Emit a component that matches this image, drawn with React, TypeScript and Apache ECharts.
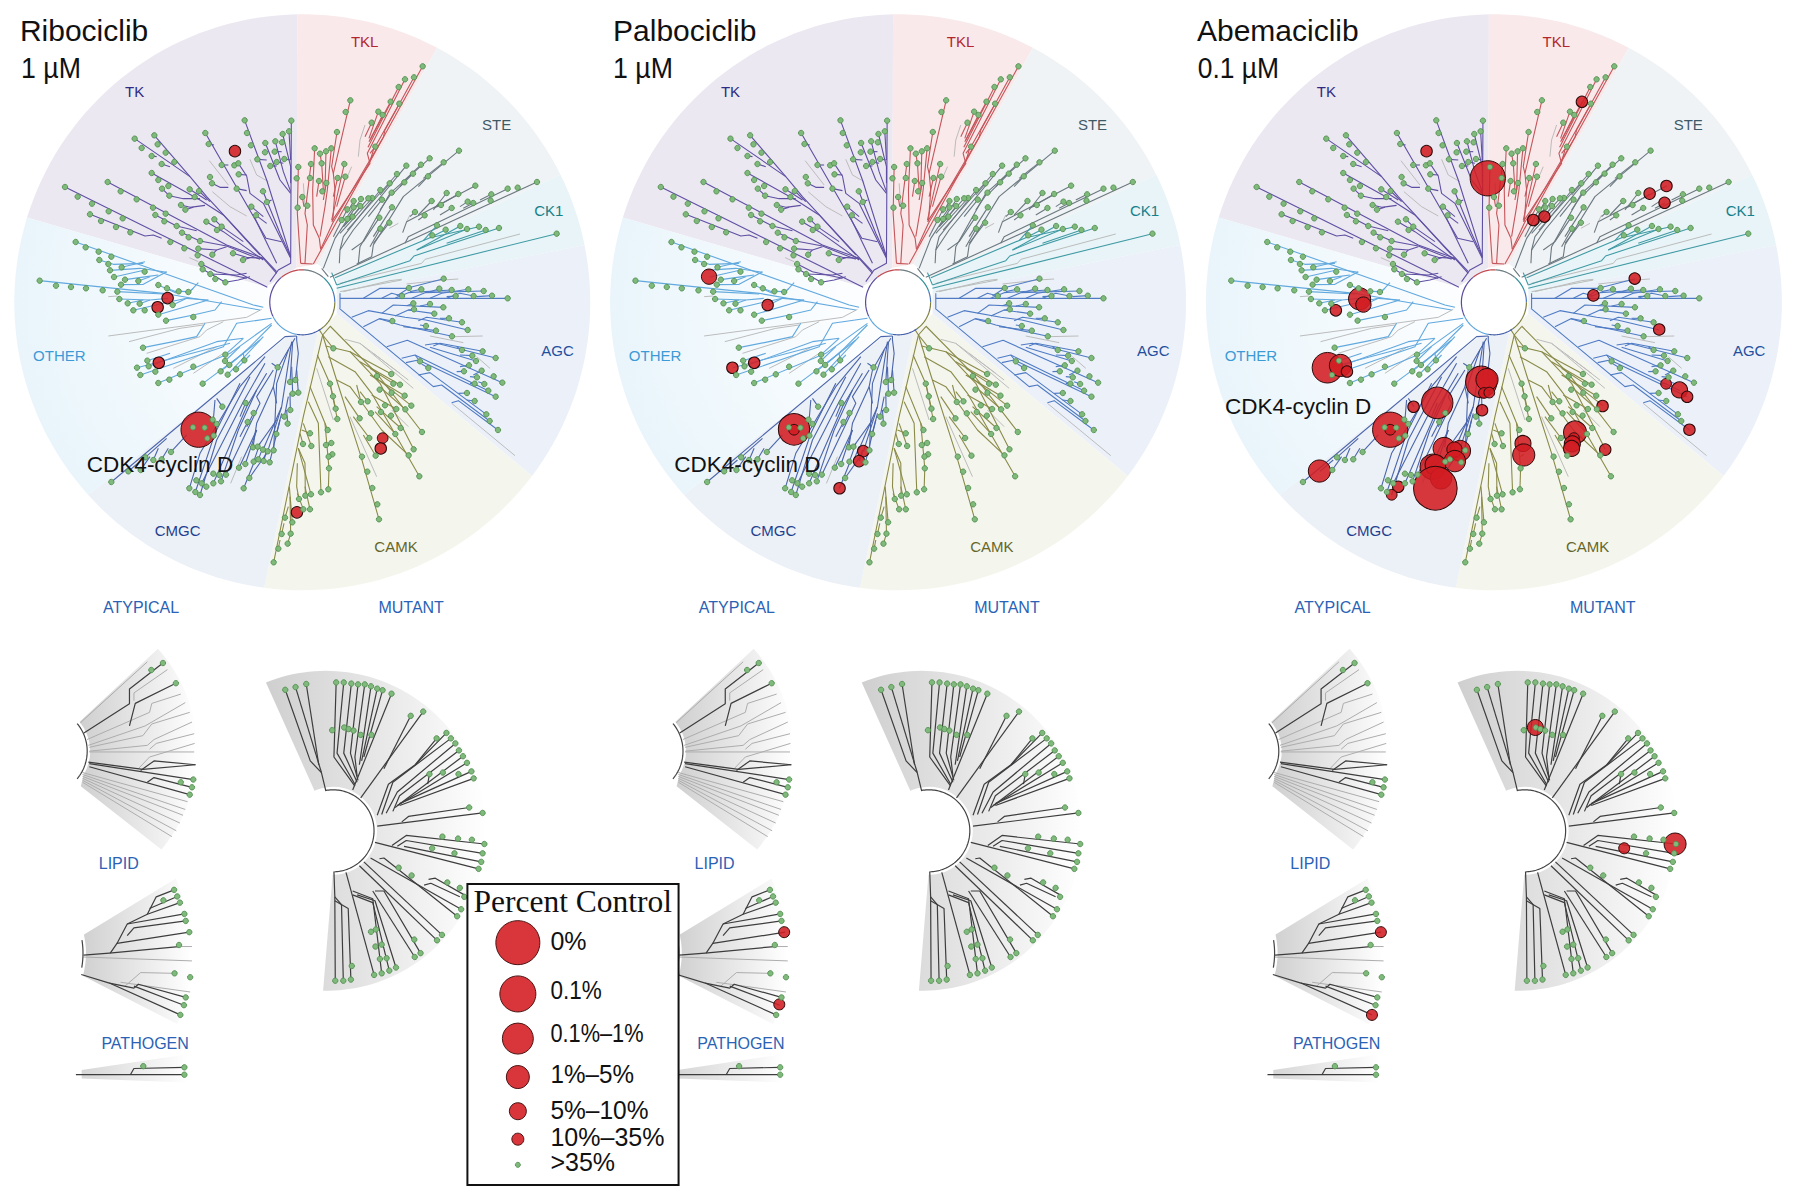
import React, { useEffect, useRef } from "react";
import * as echarts from "echarts";

// Positions below at 3x; fromCrop converts them to the tree's data units.
const fromCrop = (ox: number, oy: number, list: number[][]) =>
  list.map((f) => f.map((v, i) => ((i % 2 === 0 ? ox : oy) + v / 3) * 2.6133));

// ---------- titles and labels (tree coordinates) ----------
const drugNames = ["Ribociclib", "Palbociclib", "Abemaciclib"];
const drugDoses = ["1 µM", "1 µM", "0.1 µM"];
const doseScale = [0.89, 0.89, 0.88];
const titleX = [[52, 55], [45, 45], [14, 16]];
const cdkLabelPos = [[227, 1213], [205, 1213], [87, 1063]];
const panelOffsets = [0, 595.8, 1191.6];
const familyLabels: [string, number, number, string][] = [
  ["TK", 352, 240, "#2f2a85"], ["TKL", 953, 108, "#b3262e"], ["STE", 1298, 326, "#3f5a66"],
  ["CK1", 1434, 550, "#16808a"], ["AGC", 1457, 917, "#1f4fa0"], ["CAMK", 1035, 1429, "#66662a"],
  ["CMGC", 464, 1386, "#1f3f8f"], ["OTHER", 155, 930, "#3c9ad6"],
];
const lowerLabels: [string, number, number][] = [
  ["ATYPICAL", 316, 46], ["MUTANT", 921, 46], ["LIPID", 266, 703], ["PATHOGEN", 325, 1168],
];

// ---------- family wedges: fill, outer arc angles, inner vertices ----------
const wedges: [string, number, number, number[]][] = [
  ["#ece8f1", 91, 162.9, [695, 750, 775, 700]],
  ["#f9e9ea", 62.1, 91, [775, 700, 830, 690]],
  ["#f0f3f5", 26.3, 62.1, [830, 690, 880, 730]],
  ["#e8f4f7", 11.5, 26.3, [880, 730, 880, 770]],
  ["#ecf1f9", -37.1, 11.5, [880, 770, 880, 820]],
  ["#f4f6ee", -97.6, -37.1, [880, 820, 830, 870]],
  ["#ecf0f7", -138, -97.6, [830, 870, 750, 880]],
  ["#eef7fc", -197.1, -138, [750, 880, 695, 750]],
];
const ringArcs: [string, number, number][] = [
  ["#5b4a9e", 130, 205], ["#c0474d", 87, 130], ["#6d7a80", 50, 87], ["#2f8f9a", 20, 50],
  ["#4a76c0", 0, 20], ["#7d7d3a", -55, 0], ["#4560a8", -100, -55], ["#5ba3db", -155, -100],
];

// ---------- branches and dots per family ----------
const tkBranches = fromCrop(50, 100, [
  [652, 562, 45, 261],
  [335, 415, 310, 405, 285, 408, 120, 343],
  [680, 520, 640, 475, 530, 435, 173, 246],
  [254, 116, 420, 230, 470, 290, 600, 430, 680, 515],
  [313, 106, 420, 230],
  [360, 200, 335, 192],
  [320, 170, 305, 168],
  [305, 219, 450, 300, 520, 345, 630, 465],
  [336, 266, 358, 287, 400, 296, 450, 296],
  [419, 268, 470, 300],
  [447, 273, 480, 305],
  [393, 315, 420, 322, 465, 316],
  [406, 329, 430, 322],
  [316, 345, 380, 378, 440, 392],
  [396, 398, 450, 423, 530, 438, 630, 478],
  [445, 446, 500, 450, 530, 440],
  [487, 464, 500, 450],
  [469, 365, 520, 395, 640, 480],
  [493, 358, 515, 380, 580, 425],
  [549, 460, 590, 472, 640, 475],
  [579, 480, 600, 473],
  [454, 492, 500, 515, 590, 535],
  [458, 508, 526, 547, 565, 540, 600, 530],
  [481, 522, 560, 525, 590, 520],
  [466, 99, 648, 415, 695, 425],
  [610, 345, 680, 490],
  [584, 61, 650, 240, 722, 470],
  [565, 190, 590, 228, 600, 280, 640, 310, 722, 475],
  [476, 132, 492, 135],
  [515, 195, 535, 195],
  [486, 250, 510, 262, 535, 262],
  [560, 266, 590, 272],
  [566, 223, 590, 225],
  [604, 320, 640, 350],
  [618, 346, 650, 370],
  [639, 274, 690, 400, 722, 470],
  [651, 306, 665, 300],
  [646, 129, 690, 240, 722, 280],
  [622, 178, 650, 180],
  [661, 198, 680, 198],
  [676, 124, 700, 215, 722, 275],
  [698, 102, 722, 200, 722, 250],
  [717, 94, 722, 180],
  [696, 127, 705, 125],
  [674, 155, 695, 155],
  [680, 186, 700, 190],
  [703, 177, 720, 180],
  [724, 62, 722, 490, 685, 510, 660, 545],
]);
const tkGray = fromCrop(50, 100, [[478, 182, 535, 255], [600, 178, 620, 225, 655, 245], [487, 275, 540, 320, 590, 348], [418, 473, 445, 485]]);
const tkDots = fromCrop(50, 100, [
  [45, 261], [83, 290], [126, 311], [176, 334], [218, 355], [173, 246], [212, 274], [260, 298], [309, 323], [347, 341],
  [120, 343], [153, 363], [198, 381], [241, 397], [254, 116], [275, 144], [305, 168], [335, 192], [373, 186], [313, 106],
  [323, 133], [347, 158], [305, 219], [325, 240], [336, 266], [358, 287], [355, 258], [419, 268], [434, 291], [447, 273],
  [393, 315], [406, 329], [316, 345], [343, 364], [380, 378], [361, 426], [403, 445], [396, 398], [416, 412], [450, 423],
  [445, 446], [443, 466], [487, 464], [469, 365], [493, 358], [501, 390], [515, 380], [549, 460], [579, 480], [454, 492],
  [458, 508], [481, 522], [496, 537], [526, 547], [466, 99], [476, 132], [515, 195], [480, 231], [486, 250], [553, 196],
  [565, 190], [566, 223], [560, 266], [584, 61], [591, 99], [603, 136], [622, 178], [646, 129], [645, 157], [661, 198],
  [639, 274], [651, 306], [604, 320], [618, 346], [676, 124], [696, 127], [674, 155], [680, 186], [703, 177], [698, 102],
  [717, 94], [724, 62],
]);

const tklBranches = fromCrop(290, 50, [
  [70, 642, 398, 49],
  [372, 82, 285, 240, 280, 262, 128, 520, 92, 598],
  [345, 88, 232, 310, 240, 340, 125, 515],
  [326, 111, 234, 292],
  [328, 161, 250, 300, 240, 335],
  [302, 155, 237, 275],
  [265, 185, 237, 265],
  [278, 195, 240, 270],
  [245, 218, 225, 260],
  [256, 290, 240, 310],
  [181, 151, 130, 370, 135, 420, 128, 515],
  [141, 246, 125, 350, 130, 370],
  [124, 295, 112, 420, 105, 470, 90, 560],
  [108, 304, 105, 420],
  [90, 311, 95, 340, 100, 420],
  [74, 295, 68, 420, 70, 525, 88, 565, 92, 598],
  [25, 351, 22, 490, 32, 640],
  [63, 342, 45, 490, 52, 525, 45, 640],
  [163, 342, 125, 510],
  [143, 384, 130, 440],
  [166, 380, 140, 470],
  [32, 640, 68, 642],
  [87, 393, 80, 440],
  [109, 399, 100, 450],
  [37, 441, 42, 470],
]);
const tklGray = fromCrop(290, 50, [[225, 225, 210, 270, 205, 320], [40, 400, 45, 470], [185, 350, 170, 385]]);
const tklDots = fromCrop(290, 50, [
  [398, 49], [345, 88], [372, 82], [326, 111], [302, 155], [328, 161], [181, 151], [167, 186], [265, 185], [278, 195],
  [245, 218], [256, 290], [141, 246], [74, 295], [90, 311], [108, 304], [124, 295], [25, 351], [63, 342], [95, 340],
  [163, 342], [20, 385], [60, 384], [87, 393], [109, 399], [143, 384], [166, 380], [97, 424], [37, 441], [52, 467], [23, 473],
]);

const steBranches = fromCrop(290, 50, [
  [120, 682, 741, 396],
  [556, 407, 350, 515, 338, 548],
  [505, 432, 440, 470],
  [470, 429, 430, 480],
  [425, 453, 385, 495],
  [345, 580, 355, 560, 653, 416],
  [604, 433, 570, 450],
  [375, 486, 360, 500],
  [404, 496, 385, 510],
  [533, 455, 510, 470],
  [550, 459, 520, 475],
  [453, 465, 430, 475],
  [485, 474, 450, 495],
  [507, 302, 340, 440, 250, 585, 245, 620, 200, 642],
  [461, 337, 400, 385],
  [414, 379, 385, 410],
  [419, 325, 300, 430, 210, 590, 205, 640],
  [393, 344, 345, 390],
  [369, 371, 330, 410],
  [343, 397, 310, 430],
  [349, 347, 190, 540, 150, 600, 148, 640],
  [321, 372, 172, 540],
  [299, 400, 270, 435],
  [271, 420, 160, 560, 150, 600],
  [305, 428, 270, 480],
  [276, 449, 235, 500],
  [247, 444, 150, 550],
  [235, 445, 160, 530],
  [213, 447, 135, 565, 100, 655],
  [191, 453, 170, 490],
  [172, 478, 130, 560],
  [191, 472, 165, 510],
  [211, 468, 180, 510],
  [188, 500, 160, 530],
  [268, 503, 220, 575, 185, 600],
  [306, 472, 250, 560],
  [271, 536, 240, 590],
  [298, 518, 250, 580],
  [95, 655, 115, 680],
]);
const steGray = fromCrop(290, 50, [[325, 520, 298, 535], [360, 495, 350, 515]]);
const steDots = fromCrop(290, 50, [
  [507, 302], [461, 337], [419, 325], [393, 344], [414, 379], [369, 371], [343, 397], [349, 347], [321, 372], [299, 400],
  [271, 420], [305, 428], [276, 449], [247, 444], [235, 445], [213, 447], [191, 453], [172, 478], [191, 472], [211, 468],
  [188, 500], [172, 507], [155, 510], [268, 503], [306, 472], [298, 518], [271, 536], [741, 396], [683, 413], [653, 416],
  [604, 433], [602, 452], [556, 407], [505, 432], [470, 429], [425, 453], [375, 486], [453, 465], [485, 474], [533, 455],
  [550, 459], [404, 496],
]);

const ck1Branches = fromCrop(290, 50, [
  [140, 705, 360, 632, 372, 618, 627, 534],
  [135, 683, 420, 563, 567, 530],
  [420, 563, 427, 556],
  [420, 563, 467, 539],
  [400, 572, 441, 526],
  [380, 600, 511, 528],
  [380, 600, 531, 537],
  [470, 580, 587, 540],
  [140, 715, 800, 551],
  [125, 668, 140, 705],
]);
const ck1Gray = fromCrop(290, 50, [[150, 700, 395, 640, 405, 628, 690, 552], [150, 725, 335, 690]]);
const ck1Dots = fromCrop(290, 50, [[627, 534], [587, 540], [567, 530], [531, 537], [511, 528], [467, 539], [441, 526], [427, 556], [800, 551]]);

const agcBranches = fromCrop(330, 260, [
  [30, 115, 533, 115],
  [30, 100, 30, 145],
  [100, 115, 150, 85, 230, 85, 341, 56],
  [155, 115, 185, 100, 216, 108],
  [195, 115, 235, 98, 365, 90],
  [245, 115, 285, 98, 461, 93],
  [300, 115, 335, 100, 415, 88],
  [350, 115, 390, 100, 431, 108],
  [200, 108, 237, 84],
  [240, 95, 274, 88],
  [300, 95, 328, 86],
  [350, 110, 377, 108],
  [440, 110, 486, 107],
  [65, 172, 115, 152, 225, 172, 288, 180, 413, 210],
  [155, 160, 190, 135, 340, 142],
  [230, 137, 250, 130],
  [270, 138, 300, 132],
  [195, 168, 235, 150, 313, 161],
  [235, 150, 252, 148],
  [265, 182, 290, 172, 396, 187],
  [330, 175, 357, 175],
  [100, 200, 148, 176, 210, 195, 366, 229],
  [148, 176, 187, 183],
  [220, 200, 318, 212],
  [270, 195, 288, 198],
  [28, 145, 310, 380, 335, 375, 479, 483],
  [170, 260, 232, 241, 517, 368],
  [285, 255, 320, 250, 497, 294],
  [310, 258, 330, 250, 458, 274],
  [300, 262, 438, 303],
  [390, 285, 427, 287],
  [380, 260, 396, 270],
  [215, 295, 255, 285, 475, 392],
  [255, 285, 270, 304],
  [228, 308, 265, 300, 497, 410],
  [275, 312, 295, 324],
  [265, 345, 300, 338, 469, 463],
  [390, 320, 417, 316],
  [380, 335, 402, 334],
  [430, 345, 455, 332],
  [420, 350, 441, 352],
  [420, 370, 434, 371],
  [445, 365, 463, 372],
  [385, 400, 411, 399],
  [410, 420, 434, 423],
  [365, 428, 385, 422, 504, 510],
]);
const agcGray = fromCrop(330, 260, [
  [365, 430, 555, 587], [370, 230, 458, 228], [300, 228, 400, 248], [40, 95, 180, 62, 215, 58],
  [230, 72, 340, 60, 385, 57], [440, 290, 480, 325],
]);
const agcDots = fromCrop(330, 260, [
  [341, 56], [237, 84], [274, 88], [328, 86], [365, 90], [415, 88], [461, 93], [216, 108], [377, 108], [431, 108],
  [486, 107], [533, 115], [250, 130], [300, 132], [340, 142], [252, 148], [313, 161], [357, 175], [396, 187], [187, 183],
  [288, 198], [318, 212], [413, 210], [366, 229], [396, 270], [458, 274], [427, 287], [438, 303], [497, 294], [270, 304],
  [295, 324], [417, 316], [402, 334], [455, 332], [441, 352], [491, 349], [517, 368], [434, 371], [463, 372], [475, 392],
  [497, 410], [411, 399], [434, 423], [469, 463], [479, 483], [504, 510],
]);

const camkBranches = fromCrop(260, 320, [
  [188, 45, 130, 290, 41, 727],
  [175, 25, 188, 45, 210, 20],
  [210, 18, 350, 160, 486, 336],
  [188, 45, 220, 85],
  [188, 45, 225, 165, 300, 400, 357, 598],
  [205, 110, 285, 155, 335, 220, 478, 469],
  [230, 180, 270, 200, 300, 240, 365, 330, 446, 406],
  [197, 78, 270, 95, 360, 190, 461, 388],
  [270, 95, 394, 162],
  [300, 125, 420, 194],
  [330, 145, 400, 191],
  [330, 165, 434, 227],
  [350, 175, 454, 257],
  [370, 210, 436, 268],
  [290, 195, 303, 246],
  [300, 215, 323, 244],
  [335, 225, 409, 267],
  [350, 260, 422, 324],
  [345, 275, 406, 342],
  [255, 230, 299, 295],
  [280, 290, 328, 354],
  [310, 345, 347, 407],
  [172, 105, 210, 191, 232, 297],
  [210, 191, 219, 229],
  [219, 229, 227, 266],
  [150, 200, 195, 310, 207, 445, 205, 508],
  [195, 310, 203, 330],
  [198, 375, 214, 369],
  [206, 410, 217, 403],
  [145, 245, 175, 310, 183, 517],
  [130, 310, 154, 378],
  [125, 330, 150, 340],
  [120, 340, 129, 372],
  [115, 385, 135, 430, 136, 527],
  [115, 385, 153, 523],
  [135, 500, 150, 568],
  [112, 430, 110, 500, 117, 537],
  [88, 500, 97, 607],
  [90, 530, 92, 641, 83, 671],
  [75, 593, 85, 560],
  [65, 642, 72, 610],
  [55, 686, 60, 660],
  [130, 568, 112, 520],
]);
const camkGray = fromCrop(260, 320, [
  [170, 145, 220, 300], [270, 290, 350, 470], [255, 58, 300, 70, 420, 160], [300, 70, 460, 205], [340, 100, 445, 180], [395, 270, 445, 320],
]);
const camkDots = fromCrop(260, 320, [
  [220, 85], [486, 336], [478, 469], [446, 406], [461, 388], [454, 257], [436, 268], [434, 227], [420, 194], [394, 162],
  [400, 191], [351, 168], [359, 209], [395, 218], [409, 267], [375, 256], [393, 287], [422, 324], [406, 342], [303, 246],
  [323, 244], [333, 280], [363, 276], [299, 295], [328, 354], [347, 407], [306, 410], [322, 455], [337, 504], [352, 553],
  [357, 598], [210, 191], [219, 229], [227, 266], [232, 297], [203, 330], [198, 375], [214, 369], [217, 403], [206, 410],
  [207, 445], [205, 508], [183, 517], [150, 340], [129, 372], [154, 378], [153, 523], [136, 527], [117, 537], [150, 568],
  [130, 568], [75, 593], [97, 607], [65, 642], [92, 641], [83, 671], [55, 686], [41, 727],
]);

const cmgcBranches = fromCrop(100, 320, [
  [590, 48, 555, 50, 34, 486],
  [136, 412, 200, 355],
  [160, 420, 175, 385],
  [185, 418, 205, 385],
  [213, 396, 260, 345],
  [85, 454, 125, 420],
  [122, 450, 150, 410],
  [345, 240, 340, 300],
  [350, 235, 367, 260],
  [495, 110, 420, 200, 300, 400, 268, 505],
  [420, 190, 345, 340, 286, 516],
  [450, 170, 350, 360, 300, 525],
  [495, 130, 430, 245, 305, 490],
  [500, 160, 440, 260, 340, 490],
  [520, 150, 470, 230, 480, 250, 378, 464],
  [470, 210, 415, 330, 363, 484],
  [437, 249, 420, 290],
  [461, 279, 440, 320],
  [443, 306, 420, 350],
  [585, 55, 530, 150, 520, 200, 530, 250],
  [520, 200, 470, 310, 459, 382],
  [565, 90, 530, 190, 521, 391],
  [575, 65, 545, 260, 503, 394],
  [545, 260, 489, 389],
  [530, 300, 473, 380],
  [540, 300, 509, 427],
  [500, 390, 491, 423],
  [490, 380, 475, 418],
  [480, 370, 461, 425],
  [436, 432, 470, 330],
  [417, 443, 470, 330],
  [448, 474, 500, 400],
  [431, 505, 465, 420],
  [578, 65, 570, 186],
  [590, 60, 595, 100, 586, 180],
  [578, 221, 575, 140],
  [595, 218, 590, 150],
  [571, 270, 570, 220],
  [553, 290, 565, 230],
  [563, 311, 560, 270],
  [529, 342, 545, 280],
  [533, 142, 515, 130],
  [590, 48, 590, 60],
]);
const cmgcGray = fromCrop(100, 320, [[392, 490, 425, 410]]);
const cmgcDots = fromCrop(100, 320, [
  [34, 486], [85, 454], [122, 450], [136, 412], [160, 420], [185, 418], [213, 396], [279, 322], [296, 329], [314, 323],
  [322, 355], [341, 347], [338, 299], [350, 312], [367, 260], [437, 249], [461, 279], [443, 306], [533, 142], [570, 186],
  [586, 180], [578, 221], [595, 218], [571, 270], [553, 290], [563, 311], [529, 342], [459, 382], [473, 380], [489, 389],
  [503, 394], [521, 391], [461, 425], [475, 418], [491, 423], [509, 427], [436, 432], [417, 443], [448, 474], [431, 505],
  [378, 464], [358, 465], [363, 484], [340, 490], [340, 461], [319, 500], [305, 490], [289, 481], [268, 505], [286, 516],
  [300, 525],
]);

const otherBranches = fromCrop(30, 230, [
  [137, 36, 670, 225, 700, 232],
  [275, 112, 345, 95],
  [208, 90, 250, 103, 340, 100],
  [240, 121, 330, 115, 410, 127],
  [252, 141, 345, 120],
  [285, 149, 350, 140, 385, 135],
  [325, 153, 360, 140],
  [273, 164, 340, 163, 410, 125],
  [29, 152, 400, 190, 690, 240],
  [505, 158, 480, 185, 446, 184],
  [385, 165, 440, 190],
  [411, 175, 450, 190],
  [475, 186, 490, 175],
  [262, 185, 400, 192],
  [268, 207, 360, 210, 414, 205],
  [293, 220, 340, 210],
  [329, 221, 360, 210],
  [310, 241, 400, 220, 470, 205, 535, 210],
  [428, 225, 470, 205],
  [385, 254, 535, 210],
  [408, 272, 490, 255, 555, 240, 575, 215],
  [339, 353, 430, 335, 500, 320, 525, 280],
  [331, 435, 580, 350, 620, 280, 725, 265],
  [321, 413, 600, 340],
  [356, 409, 560, 335, 640, 325],
  [352, 392, 420, 370],
  [385, 459, 600, 370, 725, 280],
  [518, 461, 640, 370, 725, 285],
  [572, 424, 690, 330],
  [593, 434, 700, 320],
  [618, 418, 660, 375],
  [643, 391, 640, 370],
  [598, 405, 650, 360],
  [586, 374, 640, 325],
  [585, 393, 630, 350],
]);
const otherGray = fromCrop(30, 230, [
  [235, 318, 520, 280, 650, 262, 695, 238], [297, 335, 450, 295, 520, 285], [350, 370, 510, 320, 530, 300, 580, 275],
  [430, 415, 560, 350], [490, 430, 580, 370], [235, 200, 262, 198],
]);
const otherDots = fromCrop(30, 230, [
  [137, 36], [167, 52], [206, 65], [244, 80], [208, 90], [235, 102], [275, 112], [240, 121], [344, 125], [252, 141],
  [285, 149], [325, 153], [273, 164], [29, 152], [78, 167], [123, 171], [168, 175], [218, 181], [262, 185], [268, 207],
  [293, 220], [329, 221], [310, 241], [344, 241], [385, 165], [411, 175], [446, 184], [475, 186], [428, 225], [385, 254],
  [408, 272], [490, 261], [339, 353], [352, 392], [356, 409], [321, 413], [376, 425], [331, 435], [418, 449], [385, 459],
  [450, 433], [490, 410], [518, 461], [586, 374], [585, 393], [598, 405], [572, 424], [593, 434], [618, 418], [643, 391],
]);

// ---------- inhibition hits [x, y, diameter] per drug ----------
const ribociclibHits = [[614, 395, 30], [438, 779, 30], [412, 803, 30], [415, 948, 30], [519, 1123, 92], [1000, 1145, 28], [995, 1172, 30], [776, 1339, 30]];
const palbociclibHits = [[296, 723, 40], [449, 797, 30], [357, 961, 30], [414, 948, 30], [518, 1122, 82], [518, 1123, 28], [699, 1179, 30], [688, 1205, 30], [637, 1276, 30]];
const abemaciclibHits = [
  [614, 395, 30], [774, 466, 92], [1020, 266, 30], [893, 575, 30], [922, 566, 30], [1197, 506, 30], [1241, 486, 30], [1236, 530, 30],
  [1158, 728, 30], [1050, 772, 30], [1222, 861, 30], [1240, 1003, 28], [1275, 1019, 42], [1295, 1037, 30], [1301, 1123, 30], [1074, 1061, 30],
  [1081, 1175, 30], [1002, 1130, 60], [999, 1145, 28], [995, 1160, 42], [993, 1172, 42], [866, 1159, 42], [868, 1189, 58], [759, 1072, 30],
  [757, 998, 82], [772, 992, 58], [764, 1027, 28], [778, 1026, 28], [642, 1053, 82], [580, 1063, 30], [519, 1123, 92], [519, 1123, 28],
  [334, 1231, 58], [660, 1172, 58], [702, 1178, 54], [687, 1175, 40], [688, 1205, 56], [630, 1220, 66], [637, 1215, 54], [652, 1250, 56],
  [637, 1276, 114], [540, 1272, 30], [523, 1293, 28], [439, 781, 58], [449, 796, 40], [377, 811, 30], [355, 961, 80], [389, 955, 58], [406, 971, 30],
];
const lowerHitsByDrug = [
  [],
  [[422, 881, 11], [411, 1067, 11]],
  [[424, 881, 11], [404, 1094, 11], [770, 354, 16], [1083, 654, 22], [969, 665, 11]],
];

// ---------- lower (atypical / mutant / lipid / pathogen) trees ----------
const atypicalDark = [
  [188, 368, 290, 293, 290, 255, 365, 188],
  [290, 350, 303, 292, 394, 240],
  [198, 443, 320, 462, 438, 450],
  [315, 465, 345, 440, 438, 450],
  [200, 447, 433, 488],
  [330, 495, 345, 483, 430, 508],
  [200, 455, 425, 527],
];
const atypicalGray = [
  [180, 342, 330, 185], [300, 285, 300, 265, 375, 205], [195, 385, 335, 315, 340, 292, 405, 268],
  [198, 400, 325, 350, 415, 290], [200, 405, 320, 375, 340, 345, 425, 315], [200, 415, 330, 400, 345, 385, 430, 340],
  [200, 417, 435, 417], [335, 410, 350, 395, 435, 370], [310, 460, 335, 430, 436, 395],
  [185, 470, 420, 545], [185, 475, 415, 565], [185, 480, 410, 580], [185, 485, 403, 600], [185, 490, 395, 620], [185, 495, 385, 635],
];
const atypicalDots = [[365, 188], [339, 206], [394, 240], [433, 488], [405, 495], [430, 508], [425, 527]];
const mutantDark = [
  [730, 518, 720, 470, 695, 440, 639, 257], [720, 470, 662, 250], [714, 450, 686, 242],
  [795, 505, 748, 430, 753, 238], [795, 500, 755, 420, 770, 238], [800, 495, 770, 420, 787, 241],
  [802, 490, 785, 420, 802, 243], [800, 480, 795, 430, 817, 243], [805, 450, 831, 248], [810, 440, 845, 254],
  [815, 430, 857, 258], [790, 515, 877, 267], [808, 535, 948, 313], [860, 460, 920, 324],
  [845, 580, 870, 500, 930, 450, 1000, 368], [855, 578, 880, 495, 1010, 382], [930, 450, 978, 382],
  [865, 575, 890, 520, 1020, 395], [880, 570, 895, 530, 1028, 413], [885, 560, 1037, 428], [890, 555, 1046, 445],
  [895, 550, 1056, 467], [895, 555, 1061, 485], [845, 608, 1081, 574], [900, 597, 915, 583, 1051, 560],
  [840, 650, 1072, 718], [878, 658, 910, 632, 1085, 654], [890, 660, 910, 645, 1081, 678], [905, 660, 1078, 700],
  [830, 690, 1033, 822], [850, 692, 860, 690, 1024, 840], [960, 745, 975, 742, 1040, 785], [950, 760, 965, 755, 1030, 790],
  [815, 700, 990, 888], [805, 710, 979, 902], [840, 775, 860, 775, 942, 935], [835, 775, 929, 945],
  [775, 727, 838, 991], [790, 775, 835, 795, 855, 987], [790, 785, 835, 805, 872, 980], [800, 785, 840, 800, 887, 972],
  [748, 725, 750, 790, 751, 1006], [750, 790, 765, 810, 769, 1006], [750, 800, 780, 820, 786, 1003], [958, 500, 962, 474],
];
const mutantDots = [
  [639, 257], [662, 250], [686, 242], [753, 238], [770, 238], [787, 241], [802, 243], [817, 243], [831, 248], [845, 254],
  [857, 258], [877, 267], [744, 361], [771, 354], [781, 358], [792, 362], [808, 373], [832, 373], [920, 324], [948, 313],
  [1000, 368], [978, 382], [1010, 382], [1020, 395], [1028, 413], [1037, 428], [1046, 445], [1056, 467], [1027, 474], [992, 470],
  [962, 474], [1061, 485], [1051, 560], [1081, 574], [991, 635], [1026, 640], [1057, 643], [1085, 654], [1081, 678], [1078, 700],
  [1072, 718], [968, 665], [1018, 678], [893, 715], [922, 735], [1002, 753], [1030, 767], [1040, 790], [1033, 822], [1024, 840],
  [990, 888], [979, 902], [942, 935], [929, 945], [928, 900], [831, 880], [842, 874], [841, 918], [855, 913], [851, 950],
  [866, 948], [887, 972], [872, 980], [855, 987], [838, 991], [788, 968], [751, 1006], [769, 1006], [786, 1003],
];
const lipidDark = [
  [187, 940, 245, 935, 400, 918], [247, 935, 262, 910, 424, 881], [262, 910, 285, 860, 413, 834],
  [285, 890, 300, 870, 416, 852], [285, 860, 330, 835, 403, 805], [330, 835, 350, 790, 390, 772], [335, 820, 397, 789],
  [182, 990, 245, 1012, 404, 1094], [245, 1012, 300, 1025, 310, 1015, 416, 1049], [300, 1020, 412, 1069],
];
const lipidGray = [[187, 945, 430, 955], [280, 1020, 315, 985, 391, 987], [270, 1010, 426, 1035], [400, 918, 430, 918]];
const lipidDots = [[390, 772], [397, 789], [403, 805], [366, 799], [413, 834], [416, 852], [424, 881], [401, 914], [391, 987], [426, 997], [416, 1049], [412, 1069], [404, 1094]];
const pathogenDark = [[170, 1248, 413, 1248], [292, 1248, 300, 1232, 413, 1229]];
const pathogenDots = [[413, 1229], [413, 1248], [321, 1226]];
const pathogenFan = [183, 1236, 420, 1195, 420, 1268, 183, 1258];

const fans: [number, number, number, number, number, number, number[]][] = [
  [99, 415, 153, 43, -40, 42, [181, 505, 200, 415, 178, 340]],
  [730, 620, 160, 47, -91, 112, [745, 735, 730, 620, 705, 518]],
  [0, 935, 191, 83, -21.8, 23, [180, 990, 188, 940, 180, 893]],
];
const fanArcs: [number, number, number, number, number][] = [
  [99, 415, 43, -40, 40],
  [746, 620, 41, -88, 100],
  [0, 935, 83, -10, 9],
];

// ---------- legend ----------
const legendLabels = ["0%", "0.1%", "0.1%–1%", "1%–5%", "5%–10%", "10%–35%", ">35%"];
const legendScale = [1, 0.9, 0.87, 0.97, 0.98, 1, 1];
const legendY = [908, 1040, 1155, 1254, 1342, 1414, 1480];
const legendTextY = [904, 1029, 1143, 1246, 1340, 1408, 1474];
const legendSizes = [44, 36, 31, 23, 17, 12, 5];

const BOX_U = 600;
const LOWER_W = 600;
const LOWER_H = 609;
const LEGEND_W = 700;
const UNITS = 1568;
const LOWER_X_MAX = (UNITS * LOWER_W) / LEGEND_W;
const SANS = "Liberation Sans";
const DOT = 5.4;
const DOT_FILL = "#7fb97c";
const DOT_EDGE = "#52904f";

function pairs(f: number[]) {
  const out: number[][] = [];
  for (let i = 0; i < f.length; i += 2) out.push([f[i], f[i + 1]]);
  return out;
}

function lineSeries(list: number[][], color: string, width: number, grid: number, z: number) {
  return {
    type: "custom", xAxisIndex: grid, yAxisIndex: grid, silent: true, z,
    data: list.map((_, i) => [i, i]),
    renderItem: (p: any, api: any) => ({
      type: "polyline",
      shape: { points: pairs(list[p.dataIndex]).map((q) => api.coord(q)) },
      style: { stroke: color, lineWidth: width, fill: "none", lineJoin: "round" },
    }),
  };
}

function textSeries(items: any[], grid: number, z: number) {
  return {
    type: "custom", xAxisIndex: grid, yAxisIndex: grid, silent: true, z,
    data: items.map((_, i) => [i, i]),
    renderItem: (p: any, api: any) => {
      const it = items[p.dataIndex];
      const c = api.coord([it.x, it.y]);
      return {
        type: "text", x: c[0], y: c[1], scaleX: it.sx || 1,
        style: {
          text: it.text, fill: it.fill, font: it.font,
          align: it.align || "center", verticalAlign: "middle",
        },
      };
    },
  };
}

function arcPts(c: number[], r: number, a0: number, a1: number) {
  const pts: number[][] = [];
  const n = Math.max(4, Math.ceil(Math.abs(a1 - a0) / 2));
  for (let i = 0; i <= n; i++) {
    const a = ((a0 + ((a1 - a0) * i) / n) * Math.PI) / 180;
    pts.push([c[0] + r * Math.cos(a), c[1] - r * Math.sin(a)]);
  }
  return pts;
}

function scatter(data: number[][], grid: number, z: number, color: string, border: string, bw: number) {
  return {
    type: "scatter", xAxisIndex: grid, yAxisIndex: grid, silent: true, z, data, clip: false,
    symbolSize: (v: number[]) => v[2],
    itemStyle: { color, borderColor: border, borderWidth: bw, opacity: 1 },
  };
}

function buildOption() {
  const grids: any[] = [];
  const xAxes: any[] = [];
  const yAxes: any[] = [];
  const series: any[] = [];
  const addGrid = (left: number, top: number, w: number, h: number, xMax: number) => {
    const idx = grids.length;
    grids.push({ left, top, width: w, height: h, containLabel: false });
    xAxes.push({ type: "value", gridIndex: idx, min: 0, max: xMax, show: false });
    yAxes.push({ type: "value", gridIndex: idx, min: 0, max: UNITS, inverse: true, show: false });
    return idx;
  };

  const familySets: [number[][], number[][], string][] = [
    [tkBranches, tkGray, "#5f4fa3"], [tklBranches, tklGray, "#c4555a"], [steBranches, steGray, "#6b7880"],
    [ck1Branches, ck1Gray, "#3f9aa4"], [agcBranches, agcGray, "#4f7bc4"], [camkBranches, camkGray, "#8a8a48"],
    [cmgcBranches, cmgcGray, "#4a65ab"], [otherBranches, otherGray, "#62a9de"],
  ];
  const allDots = [...tkDots, ...tklDots, ...steDots, ...ck1Dots, ...agcDots, ...camkDots, ...cmgcDots, ...otherDots];
  const hitSets = [ribociclibHits, palbociclibHits, abemaciclibHits];

  panelOffsets.forEach((off, t) => {
    const g = addGrid(off, 0, BOX_U, BOX_U, UNITS);
    const hits = hitSets[t];
    series.push({
      type: "custom", xAxisIndex: g, yAxisIndex: g, silent: true, z: 1,
      data: wedges.map((_, i) => [i, i]),
      renderItem: (p: any, api: any) => {
        const w = wedges[p.dataIndex];
        const c = api.coord([790, 790]);
        const points = arcPts(c, 288, w[1], w[2]).concat(pairs(w[3]).map((q) => api.coord(q)));
        const fill =
          p.dataIndex === 7
            ? new echarts.graphic.RadialGradient(c[0], c[1], 288, [
                { offset: 0.2, color: "#fbfdff" }, { offset: 1, color: "#e9f5fb" },
              ], true)
            : w[0];
        return { type: "polygon", shape: { points }, style: { fill } };
      },
    });
    familySets.forEach(([dark, gray, col]) => {
      series.push(lineSeries(gray, "#bcbcbc", 1, g, 2));
      series.push(lineSeries(dark, col, 1.1, g, 3));
    });
    series.push({
      type: "custom", xAxisIndex: g, yAxisIndex: g, silent: true, z: 4,
      data: [[0, 0]],
      renderItem: (_: any, api: any) => {
        const c = api.coord([790, 790]);
        return { type: "circle", shape: { cx: c[0], cy: c[1], r: 32 }, style: { fill: "#fff" } };
      },
    });
    series.push({
      type: "custom", xAxisIndex: g, yAxisIndex: g, silent: true, z: 5,
      data: ringArcs.map((_, i) => [i, i]),
      renderItem: (p: any, api: any) => {
        const a = ringArcs[p.dataIndex];
        const c = api.coord([790, 790]);
        return {
          type: "polyline", shape: { points: arcPts(c, 32.5, a[1], a[2]) },
          style: { stroke: a[0], lineWidth: 1.2, fill: "none" },
        };
      },
    });
    series.push(scatter(hits.map((h) => [h[0], h[1], h[2] / 2.6133]), g, 6, "rgba(210,28,34,0.88)", "#2c0a0a", 1));
    const visible = allDots.filter(
      (d) => !hits.some((h) => {
        const dist = Math.hypot(d[0] - h[0], d[1] - h[1]);
        return dist < 12 || (h[2] <= 42 && dist < h[2] / 2);
      }),
    );
    series.push(scatter(visible.map((d) => [d[0], d[1], DOT]), g, 7, DOT_FILL, DOT_EDGE, 0.9));
    const texts: any[] = familyLabels.map(([text, x, y, fill]) => ({ text, x, y, fill, font: `15px "${SANS}"` }));
    texts.push({ text: drugNames[t], x: titleX[t][0], y: 80, fill: "#111", font: `30px "${SANS}"`, align: "left" });
    texts.push({ text: drugDoses[t], x: titleX[t][1], y: 177, fill: "#111", font: `30px "${SANS}"`, align: "left", sx: doseScale[t] });
    texts.push({ text: "CDK4-cyclin D", x: cdkLabelPos[t][0], y: cdkLabelPos[t][1], fill: "#111", font: `22.5px "${SANS}"`, align: "left" });
    series.push(textSeries(texts, g, 8));
  });

  panelOffsets.forEach((off, t) => {
    const g = addGrid(off, 590, LOWER_W, LOWER_H, LOWER_X_MAX);
    series.push({
      type: "custom", xAxisIndex: g, yAxisIndex: g, silent: true, z: 1,
      data: fans.map((_, i) => [i, i]),
      renderItem: (p: any, api: any) => {
        const f = fans[p.dataIndex];
        const c = api.coord([f[0], f[1]]);
        const points = arcPts(c, f[2], f[5], f[4]).concat(pairs(f[6]).map((q) => api.coord(q)));
        return {
          type: "polygon", shape: { points },
          style: {
            fill: new echarts.graphic.LinearGradient(0, 0, 1, 0, [
              { offset: 0, color: "#cfcfcf" }, { offset: 0.55, color: "#e9e9e9" }, { offset: 1, color: "#ffffff" },
            ]),
          },
        };
      },
    });
    series.push({
      type: "custom", xAxisIndex: g, yAxisIndex: g, silent: true, z: 1,
      data: [[0, 0]],
      renderItem: (_: any, api: any) => ({
        type: "polygon", shape: { points: pairs(pathogenFan).map((q) => api.coord(q)) },
        style: {
          fill: new echarts.graphic.LinearGradient(0, 0, 1, 0, [
            { offset: 0, color: "#d6d6d6" }, { offset: 1, color: "#ffffff" },
          ]),
        },
      }),
    });
    series.push({
      type: "custom", xAxisIndex: g, yAxisIndex: g, silent: true, z: 2,
      data: fanArcs.map((_, i) => [i, i]),
      renderItem: (p: any, api: any) => {
        const f = fanArcs[p.dataIndex];
        const c = api.coord([f[0], f[1]]);
        return { type: "circle", shape: { cx: c[0], cy: c[1], r: f[2] + 3 }, style: { fill: "#fff" } };
      },
    });
    series.push(lineSeries([...atypicalGray, ...lipidGray], "#adadad", 1, g, 3));
    series.push(lineSeries([...atypicalDark, ...mutantDark, ...lipidDark, ...pathogenDark], "#3d3d3d", 1.2, g, 3));
    series.push({
      type: "custom", xAxisIndex: g, yAxisIndex: g, silent: true, z: 3,
      data: fanArcs.map((_, i) => [i, i]),
      renderItem: (p: any, api: any) => {
        const f = fanArcs[p.dataIndex];
        const c = api.coord([f[0], f[1]]);
        return {
          type: "polyline", shape: { points: arcPts(c, f[2], f[3], f[4]) },
          style: { stroke: "#444", lineWidth: 1.2, fill: "none" },
        };
      },
    });
    const hits = lowerHitsByDrug[t];
    series.push(scatter(hits, g, 6, "rgba(210,28,34,0.88)", "#2c0a0a", 1));
    const lowerDots = [...atypicalDots, ...mutantDots, ...lipidDots, ...pathogenDots].filter(
      (d) => !hits.some((h) => h[2] <= 11 && Math.hypot(d[0] - h[0], d[1] - h[1]) < 14),
    );
    series.push(scatter(lowerDots.map((d) => [d[0], d[1], DOT]), g, 7, DOT_FILL, DOT_EDGE, 0.9));
    series.push(textSeries(lowerLabels.map(([text, x, y]) => ({ text, x, y, fill: "#2a62b5", font: `16px "${SANS}"` })), g, 8));
  });

  // legend on its own grid
  const lg = addGrid(0, 590, LEGEND_W, LOWER_H, UNITS);
  series.push({
    type: "custom", xAxisIndex: lg, yAxisIndex: lg, silent: true, z: 20,
    data: [[0, 0]],
    renderItem: (_: any, api: any) => {
      const a = api.coord([1047, 757]);
      const b = api.coord([1520, 1532]);
      return {
        type: "rect", shape: { x: a[0], y: a[1], width: b[0] - a[0], height: b[1] - a[1] },
        style: { fill: "#fff", stroke: "#111", lineWidth: 2 },
      };
    },
  });
  const legRed = legendSizes.slice(0, 6).map((s, i) => [1160, legendY[i], s]);
  series.push(scatter(legRed, lg, 21, "#d8363a", "#4a1414", 1));
  series.push(scatter([[1160, legendY[6], legendSizes[6]]], lg, 21, DOT_FILL, DOT_EDGE, 0.9));
  const legTexts: any[] = legendLabels.map((text, i) => ({
    text, x: 1233, y: legendTextY[i], fill: "#111", font: `25px "${SANS}"`, align: "left", sx: legendScale[i],
  }));
  legTexts.push({ text: "Percent Control", x: 1283, y: 801, fill: "#111", font: `31.5px "Liberation Serif"` });
  series.push(textSeries(legTexts, lg, 22));

  return { animation: false, backgroundColor: "#ffffff", grid: grids, xAxis: xAxes, yAxis: yAxes, series };
}

export default function App() {
  const ref = useRef<HTMLDivElement>(null);
  useEffect(() => {
    const chart = echarts.init(ref.current!, undefined, { renderer: "svg" });
    chart.setOption(buildOption() as any);
    return () => chart.dispose();
  }, []);
  return <div ref={ref} style={{ position: "absolute", left: 0, top: 0, width: 1800, height: 1199 }} />;
}
